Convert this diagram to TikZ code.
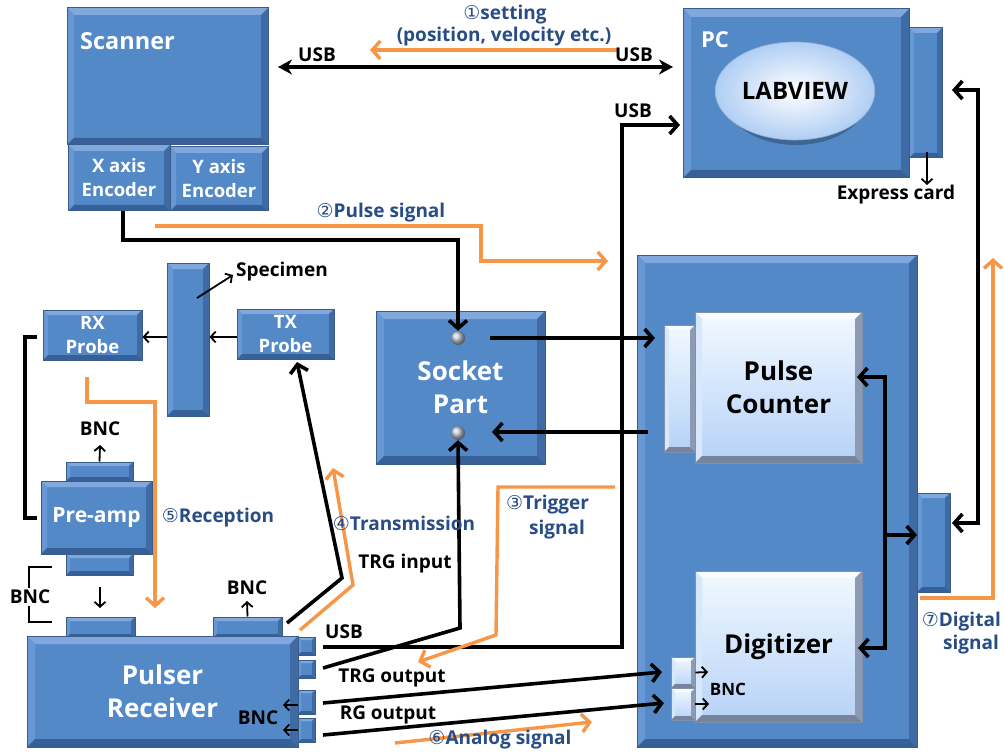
\documentclass[tikz,border=0pt]{standalone}
\usepackage{fontspec}
\setmainfont{Open Sans}
\newfontfamily\circfont{DejaVu Sans}
\usetikzlibrary{arrows.meta,shapes.geometric,calc}

\definecolor{boxblue}{RGB}{84,137,200}
\definecolor{bevhi}{RGB}{128,168,222}
\definecolor{bevleft}{RGB}{104,152,212}
\definecolor{bevlo}{RGB}{56,96,152}
\definecolor{bevrt}{RGB}{64,106,164}
\definecolor{bevline}{RGB}{58,92,138}
\definecolor{ltop}{RGB}{242,249,255}
\definecolor{lbot}{RGB}{182,210,247}
\definecolor{lhi}{RGB}{250,253,255}
\definecolor{lleft}{RGB}{215,232,252}
\definecolor{llo}{RGB}{118,132,158}
\definecolor{lrt}{RGB}{140,154,180}
\definecolor{lline}{RGB}{130,145,170}
\definecolor{labelblue}{RGB}{40,76,132}
\definecolor{sigorange}{RGB}{247,150,70}

% four bevel bands of a raised box, drawn inside its path
\newcommand\bevelpic[4]{%
  \coordinate (bpA) at (path picture bounding box.north west);
  \coordinate (bpB) at (path picture bounding box.north east);
  \coordinate (bpC) at (path picture bounding box.south east);
  \coordinate (bpD) at (path picture bounding box.south west);
  \fill[#1] (bpA) -- (bpB) -- ([shift={(-\bevw,-\bevw)}]bpB) -- ([shift={(\bevw,-\bevw)}]bpA) -- cycle;
  \fill[#2] (bpA) -- (bpD) -- ([shift={(\bevw,\bevw)}]bpD) -- ([shift={(\bevw,-\bevw)}]bpA) -- cycle;
  \fill[#3] (bpD) -- (bpC) -- ([shift={(-\bevw,\bevw)}]bpC) -- ([shift={(\bevw,\bevw)}]bpD) -- cycle;
  \fill[#4] (bpB) -- (bpC) -- ([shift={(-\bevw,\bevw)}]bpC) -- ([shift={(-\bevw,-\bevw)}]bpB) -- cycle;
}

\tikzset{
  bevw/.store in=\bevw, bevw=6pt,
  bev/.style={draw=bevline, line width=1pt, fill=boxblue, inner sep=0pt,
    path picture={\bevelpic{bevhi}{bevleft}{bevlo}{bevrt}}},
  lbev/.style={draw=lline, line width=0.8pt, top color=ltop, bottom color=lbot, inner sep=0pt,
    path picture={\bevelpic{lhi}{lleft}{llo}{lrt}}},
  wtext/.style={text=white, font=\bfseries\fontsize{18.5}{24}\selectfont, align=center},
  btext/.style={text=black, font=\bfseries\fontsize{26}{33}\selectfont, align=center},
  bigw/.style={text=white, font=\bfseries\fontsize{26}{33}\selectfont, align=center},
  lbl/.style={font=\bfseries\fontsize{19}{23}\selectfont, inner sep=0pt, align=center},
  blbl/.style={lbl, text=labelblue},
  conn/.style={line width=3.6pt, draw=black, line join=miter, -{Straight Barb[length=8pt,width=18pt]}},
  link/.style={line width=3.6pt, draw=black},
  thin/.style={line width=1.8pt, draw=black, -{Straight Barb[length=5pt,width=11pt]}},
  sig/.style={line width=3.4pt, draw=sigorange, -{Straight Barb[length=8pt,width=18pt]}},
}
\newcommand\cnum[1]{{\circfont\mdseries #1}}

\begin{document}
\begin{tikzpicture}[x=1pt,y=-1pt]
\useasboundingbox (0,0) rectangle (1004,754);
\fill[white] (0,0) rectangle (1004,754);

% ---------- scanner ----------
\node[bev, bevw=7pt, minimum width=201pt, minimum height=137pt] (scanner) at (167.5,76.5) {};
\node[lbl, text=white, anchor=west, font=\bfseries\fontsize{23.5}{28}\selectfont] (scannerlbl) at (80,41) {Scanner};
\node[bev, minimum width=102pt, minimum height=66pt, wtext] (xenc) at (119,178) {X axis\\Encoder};
\node[bev, minimum width=98pt, minimum height=64pt, wtext] (yenc) at (219,179) {Y axis\\Encoder};

% ---------- PC ----------
\node[bev, bevw=5pt, minimum width=33pt, minimum height=130pt] (excard) at (925.5,93) {};
\node[bev, bevw=8pt, minimum width=226pt, minimum height=169pt] (pc) at (796,93.5) {};
\node[lbl, text=white, font=\bfseries\fontsize{22}{26}\selectfont] (pclbl) at (715,40) {PC};
\fill[black, opacity=0.25] (796,95) ellipse (73pt and 50pt);
\node[ellipse, minimum width=144pt, minimum height=98pt, draw={rgb,255:red,150;green,175;blue,210}, line width=0.6pt,
  inner color=white, outer color={rgb,255:red,176;green,206;blue,244},
  font=\bfseries\fontsize{24}{28}\selectfont] (labview) at (795,91) {LABVIEW};
\node[lbl] (exlbl) at (896,195) {Express card};

% ---------- specimen and probes ----------
\node[bev, minimum width=42pt, minimum height=153pt] (specimen) at (188,339.5) {};
\node[lbl, anchor=west] (speclbl) at (236,272) {Specimen};
\node[bev, bevw=5pt, minimum width=99pt, minimum height=50pt, wtext] (rx) at (92.5,335) {RX\\Probe};
\node[bev, bevw=5pt, minimum width=97pt, minimum height=50pt, wtext] (tx) at (285.5,334) {TX\\Probe};

% ---------- pre-amp ----------
\node[bev, bevw=4pt, minimum width=67pt, minimum height=19pt] (pretop) at (99.5,471.5) {};
\node[bev, bevw=4pt, minimum width=67pt, minimum height=21pt] (prebot) at (99.5,564.5) {};
\node[bev, minimum width=111pt, minimum height=73pt, wtext, font=\bfseries\fontsize{21}{24}\selectfont] (preamp) at (96.5,517.5) {Pre-amp};
\node[lbl] (bncpre) at (100,429) {BNC};

% ---------- socket part ----------
\node[bev, bevw=8pt, minimum width=169pt, minimum height=153pt, bigw] (socket) at (460.5,387.5) {Socket\\Part};
\node[circle, inner sep=0pt, minimum size=14pt, shading=ball, ball color={rgb,255:red,190;green,200;blue,215}] (sockin) at (458,338) {};
\node[circle, inner sep=0pt, minimum size=14pt, shading=ball, ball color={rgb,255:red,190;green,200;blue,215}] (sockout) at (458,433) {};

% ---------- acquisition board ----------
\node[bev, bevw=8pt, minimum width=280pt, minimum height=492pt] (daq) at (777,501) {};
\node[bev, bevw=5pt, minimum width=33pt, minimum height=99pt] (daqport) at (933.5,542.5) {};
\node[lbev, bevw=5pt, minimum width=31pt, minimum height=127pt] (pctab) at (679.5,388.5) {};
\node[lbev, bevw=7pt, minimum width=167pt, minimum height=151pt, btext] (counter) at (778.5,387.5) {Pulse\\Counter};
\node[lbev, bevw=7pt, minimum width=167pt, minimum height=151pt, btext] (digitizer) at (778.5,646.5) {Digitizer};
\node[lbev, bevw=4pt, minimum width=24pt, minimum height=31pt] (dbnc1) at (683,672.5) {};
\node[lbev, bevw=4pt, minimum width=24pt, minimum height=32pt] (dbnc2) at (683,704) {};
\node[lbl, font=\bfseries\fontsize{17}{20}\selectfont] (bncdig) at (728,689) {BNC};

% ---------- pulser receiver ----------
\node[bev, bevw=4pt, minimum width=69pt, minimum height=21pt] (ptabl) at (100.5,627.5) {};
\node[bev, bevw=4pt, minimum width=69pt, minimum height=21pt] (ptabr) at (247.5,627.5) {};
\node[bev, bevw=8pt, minimum width=271pt, minimum height=111pt, bigw] (pulser) at (162.5,691.5) {Pulser\\Receiver};
\node[bev, bevw=3pt, minimum width=17pt, minimum height=18pt] (port1) at (306.5,646) {};
\node[bev, bevw=3pt, minimum width=17pt, minimum height=18pt] (port2) at (306.5,669) {};
\node[bev, bevw=3pt, minimum width=17pt, minimum height=24pt] (port3) at (306.5,702) {};
\node[bev, bevw=3pt, minimum width=17pt, minimum height=24pt] (port4) at (306.5,730) {};
\node[lbl] (bncpr) at (247,588) {BNC};
\node[lbl] (bncports) at (258,718) {BNC};

% ---------- port points ----------
\coordinate (usbL) at (278,67);
\coordinate (usbR) at (673,67);
\coordinate (xout) at (123,211);
\coordinate (sockinR) at (490,338);
\coordinate (tabin) at (655,338);
\coordinate (tabout) at (648,432);
\coordinate (sockoutR) at (492,432);
\coordinate (p1) at (323,647);
\coordinate (p2) at (323,668);
\coordinate (p3) at (323,703);
\coordinate (p4) at (323,735);
\coordinate (pctop) at (680,125);
\coordinate (d1) at (662,672);
\coordinate (d2) at (664,703);
\coordinate (txout) at (287,623);
\coordinate (txin) at (297,362);
\coordinate (cntR) at (857,377);
\coordinate (digR) at (858,648);
\coordinate (portL) at (917,535);
\coordinate (exR) at (952,90);
\coordinate (portR) at (952,523);

% ---------- black connectors ----------
\draw[line width=3.6pt, {Stealth[length=14pt,width=15pt]}-{Stealth[length=14pt,width=15pt]}] (usbL) -- (usbR);
\draw[conn] (xout) -- (123,240) -- (458,240) -- (sockin.north);
\draw[conn] (sockinR) -- (tabin);
\draw[conn] (tabout) -- (sockoutR);
\draw[conn] (p2) -- (460,628) -- (sockout.south);
\draw[conn] (p1) -- (622,647) -- (622,125) -- (pctop);
\draw[conn] (p3) -- (d1);
\draw[conn] (p4) -- (d2);
\draw[conn] (txout) -- (342,578) -- (txin);
\draw[conn, {Straight Barb[length=8pt,width=18pt]}-{Straight Barb[length=8pt,width=18pt]}] (cntR) -- (885,377) -- (885,648) -- (digR);
\draw[conn] (885,535) -- (portL);
\draw[conn, {Straight Barb[length=8pt,width=18pt]}-{Straight Barb[length=8pt,width=18pt]}] (exR) -- (978,90) -- (978,523) -- (portR);
\draw[link] (37,337) -- (25,337) -- (25,518) -- (37,518);

% ---------- thin arrows ----------
\draw[thin] (197,298) -- (233,275);
\draw[thin] (specimen.west |- 0,337) -- (rx.east |- 0,337);
\draw[thin] (tx.west |- 0,337) -- (specimen.east |- 0,337);
\draw[thin] (pretop.north) -- (100,445);
\draw[thin] (100,587) -- (100,608);
\draw[thin] (ptabr.north) -- (247,601);
\draw[thin] (298,705) -- (283,705);
\draw[thin] (298,730) -- (283,730);
\draw[thin] (dbnc1.east) -- (708,672);
\draw[thin] (dbnc2.east) -- (709,704);
\draw[thin] (927,152) -- (927,185);
\draw[line width=1.8pt] (52,567) -- (29,567) -- (29,622) -- (52,622);
\node[lbl, fill=white, inner sep=2pt] (bncpul) at (30,597) {BNC};

% ---------- orange signal paths ----------
\draw[sig] (617,50) -- (370,50);
\draw[sig] (155,226) -- (481,226) -- (481,261) -- (608,261);
\draw[sig] (87,377) -- (87,402) -- (155,402) -- (155,608);
\draw[sig] (300,630) -- (353,585) -- (333,468);
\draw[sig] (615,487) -- (498,487) -- (496,635) -- (418,662);
\draw[sig] (395,743) -- (592,722);
\draw[sig] (920,598) -- (993,598) -- (993,258);

% ---------- labels ----------
\node[lbl] (usb1) at (317,55) {USB};
\node[lbl] (usb2) at (634,55) {USB};
\node[lbl] (usb3) at (633,111) {USB};
\node[lbl] (usb4) at (344,632) {USB};
\node[blbl] (set1) at (505,15) {\cnum{①}setting};
\node[blbl] (set2) at (504,37) {(position, velocity etc.)};
\node[blbl] (pulsesig) at (381,213) {\cnum{②}Pulse signal};
\node[blbl] (recep) at (218,518) {\cnum{⑤}Reception};
\node[blbl] (trans) at (404,523) {\cnum{④}Transmission};
\node[lbl] (trgin) at (405,564) {TRG input};
\node[blbl, anchor=west] (trig1) at (506,505) {\cnum{③}Trigger};
\node[blbl] (trig2) at (557,530) {signal};
\node[lbl] (trgout) at (392,678) {TRG output};
\node[lbl] (rgout) at (388,715) {RG output};
\node[blbl] (analog) at (500,740) {\cnum{⑥}Analog signal};
\node[blbl, anchor=east] (dig1) at (1001,622) {\cnum{⑦}Digital};
\node[blbl, anchor=east] (dig2) at (999,645) {signal};
\end{tikzpicture}
\end{document}
